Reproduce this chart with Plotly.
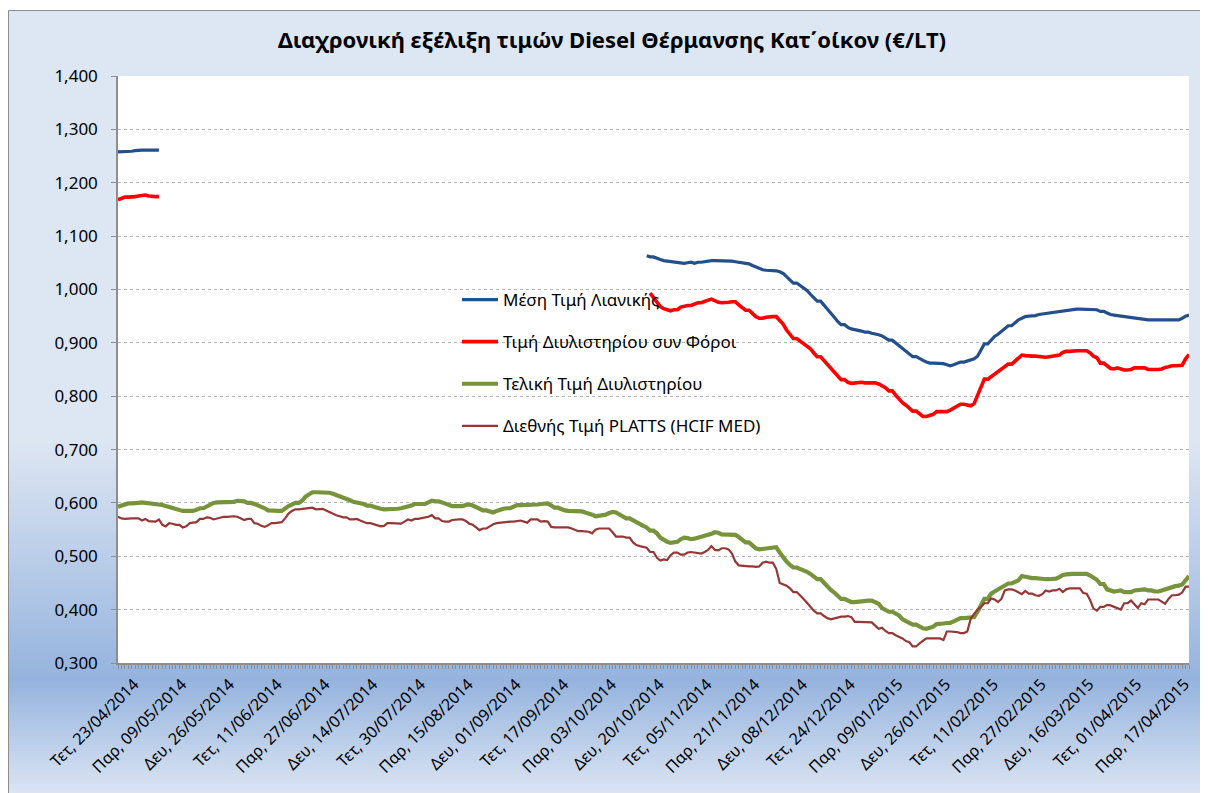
import pandas as pd
import plotly.graph_objects as go

# ---------------- DATA ----------------
start_date = "2014-04-23"
n_days = 315  # Monday-Saturday categories shown on the axis

tick_labels = ["Τετ, 23/04/2014", "Παρ, 09/05/2014", "Δευ, 26/05/2014", "Τετ, 11/06/2014",
               "Παρ, 27/06/2014", "Δευ, 14/07/2014", "Τετ, 30/07/2014", "Παρ, 15/08/2014",
               "Δευ, 01/09/2014", "Τετ, 17/09/2014", "Παρ, 03/10/2014", "Δευ, 20/10/2014",
               "Τετ, 05/11/2014", "Παρ, 21/11/2014", "Δευ, 08/12/2014", "Τετ, 24/12/2014",
               "Παρ, 09/01/2015", "Δευ, 26/01/2015", "Τετ, 11/02/2015", "Παρ, 27/02/2015",
               "Δευ, 16/03/2015", "Τετ, 01/04/2015", "Παρ, 17/04/2015"]

series_names = ["Μέση Τιμή Λιανικής", "Τιμή Διυλιστηρίου συν Φόροι",
                "Τελική Τιμή Διυλιστηρίου", "Διεθνής Τιμή PLATTS (HCIF MED)"]

# Μέση Τιμή Λιανικής: two observed stretches
retail_early = [1.258, 1.258, 1.258, 1.259, 1.259, 1.260, 1.261, 1.261, 1.261, 1.261,
                1.261, 1.261, 1.261]
retail_late_start = 155
retail_late = [1.063, 1.061, 1.061, 1.058, 1.056,
               1.054, 1.053, 1.052, 1.051, 1.051, 1.050, 1.049, 1.050, 1.051, 1.049,
               1.051, 1.051, 1.052, 1.054, 1.054, 1.054, 1.054, 1.054, 1.054, 1.053,
               1.053, 1.052, 1.051, 1.050, 1.048, 1.048, 1.045, 1.042, 1.040, 1.037,
               1.036, 1.036, 1.036, 1.035, 1.033, 1.030, 1.024, 1.018, 1.012, 1.012,
               1.007, 1.003, 0.998, 0.991, 0.985, 0.978, 0.978, 0.971, 0.963, 0.955,
               0.948, 0.940, 0.934, 0.934, 0.929, 0.926, 0.925, 0.924, 0.922, 0.920,
               0.920, 0.918, 0.917, 0.915, 0.913, 0.909, 0.905, 0.905, 0.900, 0.895,
               0.890, 0.884, 0.879, 0.874, 0.874, 0.870, 0.867, 0.864, 0.862, 0.862,
               0.862, 0.862, 0.861, 0.859, 0.857, 0.859, 0.862, 0.864, 0.864, 0.866,
               0.868, 0.870, 0.875, 0.887, 0.898, 0.898, 0.906, 0.912, 0.916, 0.921,
               0.927, 0.932, 0.932, 0.938, 0.943, 0.946, 0.949, 0.950, 0.950, 0.951,
               0.953, 0.954, 0.955, 0.956, 0.957, 0.957, 0.958, 0.959, 0.960, 0.961,
               0.962, 0.963, 0.963, 0.963, 0.963, 0.963, 0.963, 0.962, 0.959, 0.959,
               0.956, 0.953, 0.952, 0.951, 0.951, 0.949, 0.949, 0.947, 0.946, 0.945,
               0.944, 0.943, 0.943, 0.943, 0.943, 0.943, 0.943, 0.943, 0.943, 0.943,
               0.943, 0.943, 0.946, 0.950, 0.952]

# Τιμή Διυλιστηρίου συν Φόροι
reftax_early = [1.168, 1.171, 1.173, 1.173, 1.173, 1.174, 1.175, 1.176, 1.177, 1.175,
                1.174, 1.174, 1.174]
reftax_late_start = 156
reftax_late = [0.993, 0.985, 0.976, 0.968,
               0.964, 0.962, 0.960, 0.962, 0.962, 0.967, 0.969, 0.970, 0.970, 0.972,
               0.975, 0.975, 0.978, 0.980, 0.982, 0.979, 0.976, 0.975, 0.975, 0.976,
               0.977, 0.977, 0.971, 0.965, 0.961, 0.961, 0.955, 0.949, 0.946, 0.946,
               0.948, 0.949, 0.949, 0.949, 0.943, 0.935, 0.924, 0.916, 0.908, 0.908,
               0.903, 0.898, 0.894, 0.889, 0.881, 0.874, 0.874, 0.867, 0.860, 0.853,
               0.845, 0.837, 0.831, 0.831, 0.826, 0.824, 0.825, 0.826, 0.826, 0.825,
               0.825, 0.825, 0.825, 0.823, 0.820, 0.816, 0.810, 0.810, 0.802, 0.794,
               0.788, 0.783, 0.778, 0.772, 0.772, 0.766, 0.762, 0.762, 0.764, 0.766,
               0.771, 0.771, 0.771, 0.771, 0.774, 0.778, 0.781, 0.785, 0.785, 0.783,
               0.782, 0.786, 0.800, 0.818, 0.832, 0.832, 0.837, 0.841, 0.845, 0.851,
               0.856, 0.860, 0.860, 0.866, 0.871, 0.877, 0.876, 0.875, 0.875, 0.875,
               0.874, 0.873, 0.873, 0.874, 0.875, 0.875, 0.877, 0.882, 0.884, 0.884,
               0.885, 0.885, 0.885, 0.885, 0.885, 0.881, 0.875, 0.872, 0.862, 0.862,
               0.856, 0.852, 0.851, 0.853, 0.851, 0.849, 0.849, 0.850, 0.853, 0.853,
               0.853, 0.853, 0.850, 0.850, 0.849, 0.850, 0.851, 0.854, 0.855, 0.857,
               0.857, 0.858, 0.858, 0.870, 0.878]

# Τελική Τιμή Διυλιστηρίου
refinery = [0.593, 0.595, 0.598, 0.599, 0.599, 0.599, 0.600, 0.601, 0.600, 0.599,
            0.599, 0.599, 0.598, 0.596, 0.594, 0.592, 0.589, 0.587, 0.587, 0.585,
            0.585, 0.585, 0.585, 0.587, 0.590, 0.590, 0.594, 0.598, 0.600, 0.601,
            0.601, 0.601, 0.601, 0.601, 0.602, 0.604, 0.604, 0.603, 0.600, 0.600,
            0.598, 0.596, 0.594, 0.590, 0.586, 0.585, 0.585, 0.585, 0.585, 0.590,
            0.594, 0.597, 0.600, 0.600, 0.604, 0.612, 0.617, 0.620, 0.620, 0.620,
            0.620, 0.620, 0.619, 0.617, 0.615, 0.612, 0.609, 0.609, 0.605, 0.602,
            0.601, 0.600, 0.598, 0.595, 0.595, 0.593, 0.590, 0.589, 0.588, 0.588,
            0.588, 0.588, 0.589, 0.590, 0.591, 0.593, 0.595, 0.598, 0.598, 0.598,
            0.598, 0.601, 0.604, 0.603, 0.603, 0.601, 0.598, 0.595, 0.594, 0.594,
            0.594, 0.594, 0.596, 0.597, 0.595, 0.592, 0.590, 0.586, 0.586, 0.583,
            0.582, 0.585, 0.588, 0.589, 0.590, 0.590, 0.593, 0.596, 0.596, 0.596,
            0.596, 0.597, 0.597, 0.597, 0.598, 0.599, 0.599, 0.595, 0.591, 0.591,
            0.588, 0.586, 0.585, 0.585, 0.585, 0.584, 0.584, 0.582, 0.581, 0.578,
            0.575, 0.576, 0.578, 0.578, 0.581, 0.583, 0.582, 0.579, 0.575, 0.571,
            0.571, 0.567, 0.563, 0.559, 0.557, 0.554, 0.548, 0.548, 0.543, 0.535,
            0.530, 0.527, 0.525, 0.527, 0.527, 0.532, 0.535, 0.534, 0.532, 0.533,
            0.535, 0.535, 0.537, 0.540, 0.542, 0.545, 0.544, 0.541, 0.541, 0.540,
            0.540, 0.540, 0.536, 0.531, 0.526, 0.526, 0.520, 0.515, 0.513, 0.514,
            0.515, 0.516, 0.516, 0.517, 0.507, 0.498, 0.490, 0.484, 0.479, 0.479,
            0.477, 0.475, 0.471, 0.467, 0.463, 0.457, 0.457, 0.450, 0.443, 0.437,
            0.432, 0.426, 0.420, 0.420, 0.416, 0.414, 0.414, 0.415, 0.416, 0.417,
            0.417, 0.417, 0.415, 0.411, 0.403, 0.399, 0.396, 0.396, 0.393, 0.389,
            0.382, 0.378, 0.375, 0.372, 0.372, 0.368, 0.365, 0.364, 0.366, 0.368,
            0.373, 0.373, 0.374, 0.375, 0.375, 0.378, 0.382, 0.384, 0.384, 0.385,
            0.384, 0.386, 0.396, 0.408, 0.420, 0.420, 0.430, 0.434, 0.438, 0.442,
            0.446, 0.449, 0.449, 0.452, 0.455, 0.463, 0.461, 0.459, 0.459, 0.459,
            0.458, 0.458, 0.457, 0.457, 0.458, 0.458, 0.461, 0.465, 0.466, 0.467,
            0.467, 0.467, 0.467, 0.467, 0.467, 0.464, 0.460, 0.456, 0.448, 0.448,
            0.438, 0.435, 0.434, 0.435, 0.436, 0.433, 0.433, 0.433, 0.436, 0.437,
            0.438, 0.438, 0.436, 0.436, 0.434, 0.434, 0.436, 0.438, 0.441, 0.444,
            0.444, 0.445, 0.447, 0.455, 0.463]

# Διεθνής Τιμή PLATTS (HCIF MED)
platts = [0.574, 0.571, 0.570, 0.571, 0.571, 0.571, 0.571, 0.567, 0.570, 0.566,
          0.565, 0.565, 0.569, 0.559, 0.556, 0.562, 0.561, 0.559, 0.559, 0.554,
          0.556, 0.562, 0.563, 0.564, 0.570, 0.570, 0.573, 0.572, 0.569, 0.571,
          0.573, 0.574, 0.574, 0.575, 0.575, 0.574, 0.571, 0.568, 0.570, 0.570,
          0.562, 0.561, 0.557, 0.555, 0.558, 0.562, 0.562, 0.563, 0.564, 0.571,
          0.580, 0.585, 0.588, 0.588, 0.589, 0.590, 0.591, 0.591, 0.588, 0.589,
          0.589, 0.586, 0.583, 0.579, 0.577, 0.575, 0.573, 0.573, 0.569, 0.569,
          0.570, 0.567, 0.564, 0.562, 0.562, 0.560, 0.558, 0.556, 0.557, 0.562,
          0.562, 0.562, 0.561, 0.561, 0.565, 0.569, 0.567, 0.570, 0.570, 0.571,
          0.572, 0.574, 0.577, 0.571, 0.571, 0.566, 0.565, 0.565, 0.568, 0.569,
          0.569, 0.569, 0.566, 0.561, 0.559, 0.554, 0.549, 0.552, 0.552, 0.556,
          0.560, 0.562, 0.563, 0.564, 0.565, 0.565, 0.565, 0.566, 0.567, 0.565,
          0.563, 0.569, 0.569, 0.569, 0.565, 0.566, 0.565, 0.555, 0.554, 0.554,
          0.554, 0.555, 0.554, 0.552, 0.550, 0.547, 0.547, 0.546, 0.546, 0.543,
          0.550, 0.552, 0.552, 0.552, 0.552, 0.545, 0.537, 0.537, 0.537, 0.535,
          0.535, 0.526, 0.521, 0.519, 0.518, 0.516, 0.508, 0.508, 0.497, 0.492,
          0.494, 0.493, 0.502, 0.507, 0.507, 0.503, 0.503, 0.507, 0.508, 0.507,
          0.505, 0.505, 0.508, 0.512, 0.519, 0.512, 0.511, 0.515, 0.515, 0.513,
          0.505, 0.490, 0.483, 0.482, 0.481, 0.481, 0.481, 0.480, 0.481, 0.488,
          0.490, 0.488, 0.488, 0.476, 0.450, 0.447, 0.445, 0.440, 0.433, 0.433,
          0.427, 0.420, 0.413, 0.405, 0.398, 0.393, 0.393, 0.388, 0.384, 0.382,
          0.384, 0.386, 0.387, 0.387, 0.388, 0.386, 0.377, 0.377, 0.377, 0.377,
          0.377, 0.376, 0.370, 0.364, 0.366, 0.360, 0.356, 0.356, 0.352, 0.349,
          0.346, 0.341, 0.339, 0.331, 0.331, 0.337, 0.342, 0.346, 0.346, 0.346,
          0.346, 0.346, 0.343, 0.359, 0.359, 0.359, 0.358, 0.356, 0.356, 0.359,
          0.383, 0.392, 0.400, 0.405, 0.412, 0.412, 0.421, 0.419, 0.414, 0.420,
          0.436, 0.438, 0.438, 0.436, 0.432, 0.429, 0.435, 0.430, 0.430, 0.427,
          0.426, 0.429, 0.436, 0.434, 0.436, 0.436, 0.439, 0.433, 0.438, 0.440,
          0.440, 0.440, 0.440, 0.431, 0.430, 0.418, 0.402, 0.398, 0.405, 0.405,
          0.409, 0.408, 0.405, 0.402, 0.400, 0.412, 0.412, 0.417, 0.410, 0.403,
          0.412, 0.410, 0.419, 0.419, 0.419, 0.419, 0.415, 0.411, 0.420, 0.427,
          0.427, 0.428, 0.432, 0.443, 0.443]

# ---------------- BUILD ----------------
dates = pd.bdate_range(start_date, periods=n_days, freq="C", weekmask="Mon Tue Wed Thu Fri Sat")
date_str = [d.strftime("%d/%m/%Y") for d in dates]
xpos = list(range(n_days))


def with_gaps(early, late_start, late):
    vals = [None] * n_days
    for i, v in enumerate(early):
        vals[i] = v
    for i, v in enumerate(late):
        vals[late_start + i] = v
    return vals


retail = with_gaps(retail_early, retail_late_start, retail_late)
reftax = with_gaps(reftax_early, reftax_late_start, reftax_late)

tickvals = [date_str.index(lbl.split(", ")[1]) for lbl in tick_labels]

colors = ["#234F8A", "#FF0000", "#77933C", "#953735"]
widths = [3.2, 3.6, 4.2, 2.2]
values = [retail, reftax, refinery, platts]

FONT = "Noto Sans"
fig = go.Figure()
for k in range(4):
    fig.add_trace(go.Scatter(
        x=xpos, y=values[k], mode="lines", name=series_names[k],
        line=dict(color=colors[k], width=widths[k]),
        legendgroup=f"g{k}", connectgaps=False,
        customdata=date_str, hovertemplate="%{customdata}: %{y:.3f}<extra></extra>"))

# pixel geometry (page body adds an 8px offset, so the figure is 8px smaller)
OFF = 8
W, H = 1208 - OFF, 793 - OFF
L, R, T, B = 118 - OFF, 1189 - OFF, 76 - OFF, 663 - OFF


def xp(Xs):  # screen x -> paper
    return (Xs - OFF - L) / (R - L)


def yp(Ys):  # screen y -> paper
    return (B - (Ys - OFF)) / (B - T)


def hexrgb(h):
    h = h.lstrip("#")
    return tuple(int(h[i:i + 2], 16) for i in (0, 2, 4))


stops = [(10, "#DDE6F3"), (440, "#DDE6F3"), (678, "#95B3DE"), (800, "#E0E8F4")]
shapes = []
Ys = 10
step = 3
while Ys < 800:
    for a in range(len(stops) - 1):
        if stops[a][0] <= Ys <= stops[a + 1][0]:
            y0s, c0 = stops[a]
            y1s, c1 = stops[a + 1]
            break
    t = (Ys - y0s) / (y1s - y0s) if y1s > y0s else 0
    r0, g0, b0 = hexrgb(c0)
    r1, g1, b1 = hexrgb(c1)
    col = f"rgb({round(r0 + (r1 - r0) * t)},{round(g0 + (g1 - g0) * t)},{round(b0 + (b1 - b0) * t)})"
    shapes.append(dict(type="rect", xref="paper", yref="paper", layer="below",
                       x0=xp(8), x1=xp(1220), y0=yp(min(Ys + step + 0.5, 805)), y1=yp(Ys),
                       fillcolor=col, line=dict(width=0)))
    Ys += step
shapes.append(dict(type="rect", xref="paper", yref="paper", layer="below",
                   x0=0, x1=1, y0=0, y1=1, fillcolor="white", line=dict(width=0)))
shapes.append(dict(type="rect", xref="paper", yref="paper", layer="above",
                   x0=xp(8.5), x1=xp(1240), y0=yp(830), y1=yp(10.5),
                   fillcolor="rgba(0,0,0,0)", line=dict(color="#8E8E8E", width=1)))

fig.update_layout(
    width=W, height=H,
    margin=dict(l=L, r=W - R, t=T, b=H - B),
    paper_bgcolor="white", plot_bgcolor="rgba(0,0,0,0)",
    separators=",.",
    font=dict(family=FONT, color="black"),
    title=dict(text="<b>Διαχρονική εξέλιξη τιμών Diesel Θέρμανσης Κατ΄οίκον (€/LT)</b>",
               x=(612 - OFF) / W, xanchor="center", y=1 - (40 - OFF) / H, yanchor="middle",
               font=dict(family=FONT, size=22, color="black")),
    shapes=shapes,
    showlegend=True,
    legend=dict(x=xp(457), y=yp(282), xanchor="left", yanchor="top",
                bgcolor="rgba(0,0,0,0)", borderwidth=0,
                font=dict(family=FONT, size=17, color="black"),
                traceorder="grouped", tracegroupgap=17, itemwidth=36),
    hovermode="closest",
)

fig.update_xaxes(
    range=[0, n_days - 1], showgrid=False, zeroline=False,
    tickmode="array", tickvals=tickvals, ticktext=tick_labels,
    tickangle=-45, ticks="outside", ticklen=4, tickcolor="#8E8E8E",
    ticklabelshift=16,
    tickfont=dict(family=FONT, size=16, color="black"),
    showline=True, linecolor="#8E8E8E", linewidth=1.5,
    minor=dict(ticks="outside", dtick=1, tick0=0, ticklen=4, tickcolor="#8E8E8E", showgrid=False),
)
fig.update_yaxes(
    range=[0.3, 1.4], dtick=0.1, tick0=0.3, tickformat=".3f",
    showgrid=True, gridcolor="#B4B4B4", griddash="dot", gridwidth=1,
    zeroline=False, ticks="outside", ticklen=5, tickcolor="#8E8E8E",
    ticklabelstandoff=10,
    showline=True, linecolor="#8E8E8E", linewidth=1.5,
    tickfont=dict(family=FONT, size=17, color="black"),
)

fig.write_html("out.html")
